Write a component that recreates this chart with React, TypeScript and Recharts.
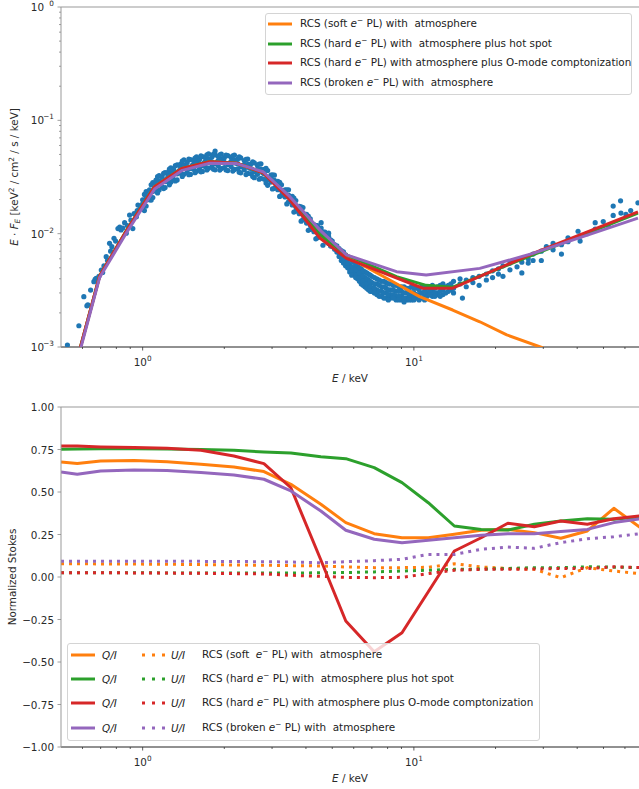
import React from 'react';
import { ComposedChart, Line, Scatter, XAxis, YAxis, ReferenceLine } from 'recharts';

const FONT = '"DejaVu Sans", sans-serif';
const FS = 10.4;
const ORANGE = '#ff7f0e';
const GREEN = '#2ca02c';
const RED = '#d62728';
const PURPLE = '#9467bd';
const BLUE = '#1f77b4';

// observed spectrum, [E keV, E*F_E]
const spectrumPts: [number, number][] = [
  [0.528, 0.00104], [0.582, 0.00154], [0.607, 0.00278], [0.623, 0.00231], [0.628, 0.00236], [0.643, 0.00318],
  [0.661, 0.00377], [0.668, 0.00395], [0.674, 0.00404], [0.69, 0.0042], [0.704, 0.00478], [0.712, 0.00455],
  [0.72, 0.0052], [0.734, 0.00626], [0.742, 0.0058], [0.755, 0.00822], [0.762, 0.007], [0.77, 0.00768],
  [0.784, 0.0091], [0.795, 0.0086], [0.811, 0.0111], [0.823, 0.0114], [0.832, 0.0108], [0.845, 0.0112],
  [0.858, 0.0125], [0.87, 0.0101], [0.878, 0.0118], [0.895, 0.0146], [0.905, 0.0132], [0.92, 0.0111],
  [0.93, 0.015], [0.948, 0.0141], [0.955, 0.016], [0.961, 0.0179], [0.975, 0.0165], [0.985, 0.0175],
  [1.0, 0.0199], [1.0, 0.0166], [1.0, 0.0183], [1.03, 0.0175], [1.03, 0.0211], [1.03, 0.0235],
  [1.06, 0.0221], [1.06, 0.0199], [1.06, 0.0243], [1.09, 0.0282], [1.09, 0.0235], [1.09, 0.0208],
  [1.12, 0.0297], [1.12, 0.0246], [1.12, 0.0273], [1.15, 0.0243], [1.15, 0.0293], [1.15, 0.0326],
  [1.18, 0.0288], [1.18, 0.0259], [1.18, 0.0317], [1.21, 0.0345], [1.21, 0.0288], [1.21, 0.0255],
  [1.24, 0.0348], [1.24, 0.0289], [1.24, 0.032], [1.27, 0.0284], [1.27, 0.0342], [1.27, 0.0381],
  [1.3, 0.0335], [1.3, 0.0302], [1.3, 0.0369], [1.34, 0.0404], [1.34, 0.0337], [1.34, 0.0298],
  [1.38, 0.0412], [1.38, 0.0342], [1.38, 0.0379], [1.42, 0.0334], [1.42, 0.0403], [1.42, 0.0448],
  [1.46, 0.0386], [1.46, 0.0347], [1.46, 0.0425], [1.5, 0.0451], [1.5, 0.0376], [1.5, 0.0333],
  [1.54, 0.0446], [1.54, 0.037], [1.54, 0.041], [1.58, 0.0356], [1.58, 0.0428], [1.58, 0.0477],
  [1.62, 0.041], [1.62, 0.0369], [1.62, 0.0451], [1.66, 0.0478], [1.66, 0.0399], [1.66, 0.0354],
  [1.7, 0.0473], [1.7, 0.0392], [1.7, 0.0435], [1.75, 0.0378], [1.75, 0.0455], [1.75, 0.0506],
  [1.8, 0.0431], [1.8, 0.0388], [1.8, 0.0474], [1.85, 0.0495], [1.85, 0.0413], [1.85, 0.0366], [1.85, 0.0535],
  [1.9, 0.0479], [1.9, 0.0398], [1.9, 0.0441], [1.95, 0.0376], [1.95, 0.0453], [1.95, 0.0504],
  [2.0, 0.0425], [2.0, 0.0383], [2.0, 0.0468], [2.06, 0.0488], [2.06, 0.0407], [2.06, 0.036],
  [2.12, 0.0472], [2.12, 0.0392], [2.12, 0.0434], [2.18, 0.0369], [2.18, 0.0444], [2.18, 0.0494],
  [2.24, 0.0415], [2.24, 0.0374], [2.24, 0.0457], [2.3, 0.0466], [2.3, 0.0389], [2.3, 0.0344],
  [2.37, 0.0442], [2.37, 0.0367], [2.37, 0.0407], [2.44, 0.034], [2.44, 0.0409], [2.44, 0.0455],
  [2.51, 0.0376], [2.51, 0.0338], [2.51, 0.0414], [2.58, 0.0422], [2.58, 0.0352], [2.58, 0.0312],
  [2.65, 0.0402], [2.65, 0.0334], [2.65, 0.037], [2.73, 0.0308], [2.73, 0.0371], [2.73, 0.0413],
  [2.81, 0.0336], [2.81, 0.0302], [2.81, 0.037], [2.89, 0.0361], [2.89, 0.0301], [2.89, 0.0267],
  [2.97, 0.0329], [2.97, 0.0285], [2.97, 0.0312], [3.06, 0.0251], [3.06, 0.0295], [3.06, 0.0328],
  [3.15, 0.0267], [3.15, 0.0244], [3.15, 0.029], [3.25, 0.027], [3.25, 0.024], [3.25, 0.0218],
  [3.35, 0.0244], [3.35, 0.0211], [3.35, 0.0231], [3.45, 0.0191], [3.45, 0.0219], [3.45, 0.0244],
  [3.56, 0.0196], [3.56, 0.0179], [3.56, 0.0213], [3.67, 0.0196], [3.67, 0.0173], [3.67, 0.0158],
  [3.78, 0.0174], [3.78, 0.015], [3.78, 0.0164], [3.9, 0.0133], [3.9, 0.0153], [3.9, 0.017],
  [4.02, 0.0136], [4.02, 0.0124], [4.02, 0.0148], [4.15, 0.0135], [4.15, 0.0119], [4.15, 0.0109],
  [4.28, 0.012], [4.28, 0.0104], [4.28, 0.0113], [4.41, 0.0092], [4.41, 0.0106], [4.41, 0.0118],
  // outer edge of the band around the peak
  [1.015, 0.0222], [1.015, 0.016], [1.075, 0.027], [1.075, 0.0198], [1.135, 0.0318], [1.135, 0.0229],
  [1.195, 0.0341], [1.195, 0.025], [1.255, 0.0371], [1.255, 0.027], [1.32, 0.0398], [1.32, 0.0292],
  [1.4, 0.0437], [1.4, 0.032], [1.48, 0.0455], [1.48, 0.0331], [1.56, 0.0465], [1.56, 0.0345],
  [1.64, 0.0487], [1.64, 0.0351], [1.725, 0.0497], [1.725, 0.0365], [1.825, 0.0503], [1.825, 0.037],
  [1.925, 0.0496], [1.925, 0.0364], [2.03, 0.0493], [2.03, 0.0365], [2.15, 0.0487], [2.15, 0.0357],
  [2.27, 0.0476], [2.27, 0.0349], [2.405, 0.0452], [2.405, 0.0332], [2.545, 0.043], [2.545, 0.0319],
  [2.69, 0.0412], [2.69, 0.0302], [2.85, 0.0377], [2.85, 0.028], [3.01, 0.033], [3.01, 0.0248],
  [3.2, 0.0284], [3.2, 0.0213], [3.4, 0.0244], [3.4, 0.0183], [3.61, 0.0206], [3.61, 0.0155],
  [3.84, 0.0172], [3.84, 0.0129], [4.08, 0.0143], [4.08, 0.0107], [4.35, 0.0118], [4.35, 0.009],
  [4.62, 0.0104], [4.62, 0.0079],
  // middle of the band
  [1.045, 0.0205], [1.105, 0.0252], [1.165, 0.0283], [1.225, 0.0303], [1.285, 0.033], [1.36, 0.0358],
  [1.44, 0.0385], [1.52, 0.0398], [1.6, 0.0404], [1.68, 0.042], [1.775, 0.0435], [1.875, 0.0428],
  [1.975, 0.043], [2.09, 0.042], [2.21, 0.0418], [2.335, 0.0398], [2.475, 0.038], [2.615, 0.0362],
  [2.77, 0.0344], [2.93, 0.0306], [3.105, 0.0262], [3.3, 0.0226], [3.505, 0.0196], [3.72, 0.0162],
  [3.96, 0.0135], [4.215, 0.0113], [4.48, 0.01],
  // dip region
  [4.55, 0.0112], [4.55, 0.0098], [4.55, 0.0125], [4.7, 0.0103], [4.7, 0.009], [4.7, 0.0096],
  [4.85, 0.0094], [4.85, 0.0082], [4.85, 0.0101], [5.0, 0.0086], [5.0, 0.0077], [5.0, 0.008],
  [5.2, 0.0078], [5.2, 0.0069], [5.2, 0.0072], [5.4, 0.0071], [5.4, 0.0062], [5.4, 0.0066], [5.4, 0.0058],
  [5.6, 0.0065], [5.6, 0.0057], [5.6, 0.0052], [5.8, 0.006], [5.8, 0.0053], [5.8, 0.0049], [5.8, 0.0046],
  [6.0, 0.0056], [6.0, 0.005], [6.0, 0.0045], [6.2, 0.0052], [6.2, 0.0047], [6.2, 0.0042], [6.2, 0.004],
  [6.4, 0.0049], [6.4, 0.0044], [6.4, 0.0039], [6.4, 0.0036], [6.6, 0.0046], [6.6, 0.0041], [6.6, 0.0037], [6.6, 0.0034],
  [6.8, 0.0044], [6.8, 0.0039], [6.8, 0.0035], [6.8, 0.0032], [7.0, 0.0042], [7.0, 0.0037], [7.0, 0.0033], [7.0, 0.0031],
  [7.3, 0.004], [7.3, 0.0036], [7.3, 0.0032], [7.3, 0.0029], [7.6, 0.0038], [7.6, 0.0034], [7.6, 0.0031], [7.6, 0.0028],
  [7.9, 0.0037], [7.9, 0.0033], [7.9, 0.003], [7.9, 0.0027], [8.2, 0.0036], [8.2, 0.0032], [8.2, 0.0029], [8.2, 0.0027],
  [8.6, 0.0035], [8.6, 0.0031], [8.6, 0.0028], [8.6, 0.0026], [9.0, 0.0034], [9.0, 0.0031], [9.0, 0.0028], [9.0, 0.0026],
  [9.4, 0.0033], [9.4, 0.003], [9.4, 0.0027], [9.4, 0.0026], [9.8, 0.0034], [9.8, 0.003], [9.8, 0.0028], [9.8, 0.0026],
  [10.2, 0.0033], [10.2, 0.0029], [10.2, 0.0027], [10.7, 0.0034], [10.7, 0.003], [10.7, 0.0027],
  [11.2, 0.0033], [11.2, 0.003], [11.2, 0.0028], [11.7, 0.0035], [11.7, 0.0031], [11.7, 0.0028],
  [12.2, 0.0034], [12.2, 0.003], [12.2, 0.0029], [12.8, 0.0036], [12.8, 0.0032], [12.8, 0.0029],
  [13.4, 0.0035], [13.4, 0.0031], [14.0, 0.0038], [14.0, 0.0033], [14.0, 0.003],
  [4.78, 0.0092], [4.78, 0.0084], [4.93, 0.0088], [4.93, 0.0078], [5.1, 0.008], [5.1, 0.0073],
  [5.3, 0.0074], [5.3, 0.0067], [5.3, 0.0063], [5.5, 0.0069], [5.5, 0.0061], [5.5, 0.0055],
  [5.7, 0.0062], [5.7, 0.0055], [5.7, 0.005], [5.9, 0.0058], [5.9, 0.0051], [5.9, 0.0047], [5.9, 0.0043],
  [6.1, 0.0054], [6.1, 0.0048], [6.1, 0.0043], [6.1, 0.0041], [6.3, 0.005], [6.3, 0.0045], [6.3, 0.0041], [6.3, 0.0038],
  [6.5, 0.0047], [6.5, 0.0042], [6.5, 0.0038], [6.5, 0.0035], [6.7, 0.0045], [6.7, 0.004], [6.7, 0.0036], [6.7, 0.0033],
  [6.9, 0.0043], [6.9, 0.0038], [6.9, 0.0034], [6.9, 0.0031], [7.15, 0.0041], [7.15, 0.0036], [7.15, 0.0033], [7.15, 0.003],
  [7.45, 0.0039], [7.45, 0.0035], [7.45, 0.0031], [7.45, 0.0028], [7.75, 0.0038], [7.75, 0.0034], [7.75, 0.003], [7.75, 0.0027],
  [8.05, 0.0036], [8.05, 0.0032], [8.05, 0.0029], [8.05, 0.0026], [8.4, 0.0035], [8.4, 0.0032], [8.4, 0.0029], [8.4, 0.0027],
  [8.8, 0.0034], [8.8, 0.0031], [8.8, 0.0028], [8.8, 0.0026], [9.2, 0.0034], [9.2, 0.003], [9.2, 0.0027], [9.2, 0.0025],
  [9.6, 0.0033], [9.6, 0.0029], [9.6, 0.0027], [9.6, 0.0026], [10.0, 0.0033], [10.0, 0.003], [10.0, 0.0028], [10.0, 0.0026],
  [10.45, 0.0032], [10.45, 0.0029], [10.45, 0.0026], [10.95, 0.0034], [10.95, 0.0031], [10.95, 0.0028], [10.95, 0.0026],
  [11.45, 0.0034], [11.45, 0.0031], [11.45, 0.0029], [11.95, 0.0033], [11.95, 0.003], [11.95, 0.0028],
  [12.5, 0.0035], [12.5, 0.0031], [12.5, 0.0028], [13.1, 0.0034], [13.1, 0.003], [13.7, 0.0036], [13.7, 0.0032],
  // hard tail
  [14.8, 0.0036], [14.8, 0.004], [15.1, 0.0027], [15.6, 0.0034], [15.6, 0.0039], [16.5, 0.0037], [16.5, 0.0041],
  [17.4, 0.0035], [17.4, 0.0042], [18.5, 0.0044], [18.5, 0.0039], [19.5, 0.0041], [19.5, 0.0047],
  [20.5, 0.0049], [20.5, 0.0044], [21.3, 0.0042], [21.3, 0.0052], [22.6, 0.0048], [22.6, 0.0055],
  [23.3, 0.0058], [24.0, 0.0051], [25.0, 0.0045], [25.0, 0.0056], [26.4, 0.0055], [26.4, 0.006],
  [27.5, 0.0058], [27.5, 0.0066], [29.5, 0.0058], [29.5, 0.007], [30.8, 0.0077], [32.6, 0.0082], [32.6, 0.0072],
  [35.0, 0.0066], [35.0, 0.008], [37.0, 0.0092], [37.0, 0.0085], [40.3, 0.0105], [41.0, 0.0086], [41.0, 0.0095],
  [43.5, 0.01], [46.6, 0.0125], [46.6, 0.011], [49.9, 0.0128], [52.0, 0.0118], [54.3, 0.0175], [54.3, 0.0145],
  [57.8, 0.0195], [58.0, 0.0152], [60.5, 0.0148], [63.0, 0.016], [67.0, 0.0187],
];

// model spectra
const softE = [0.562, 0.694, 0.883, 1.107, 1.4, 1.767, 2.22, 2.78, 3.49, 4.5, 5.97, 7.93, 10.5, 13.9, 17.5, 22.0, 29.6, 40];
const softF = [0.00065, 0.00423, 0.0112, 0.026, 0.0377, 0.0432, 0.0418, 0.0345, 0.0205, 0.0098, 0.00586, 0.00404, 0.00278, 0.00212, 0.00167, 0.00128, 0.00099, 0.0007];
const hotE = [0.562, 0.694, 0.883, 1.107, 1.4, 1.767, 2.22, 2.78, 3.49, 4.5, 5.64, 8.63, 11.1, 13.9, 27.5, 67];
const hotF = [0.00065, 0.00423, 0.0112, 0.026, 0.0377, 0.0432, 0.0418, 0.0345, 0.0205, 0.0098, 0.0065, 0.00417, 0.0035, 0.00337, 0.0065, 0.0152];
const omodeE = [0.562, 0.694, 0.883, 1.107, 1.4, 1.767, 2.22, 2.78, 3.49, 4.5, 5.64, 10.8, 13.9, 27.5, 67];
const omodeF = [0.00065, 0.00423, 0.01115, 0.026, 0.0377, 0.0432, 0.0418, 0.0345, 0.0198, 0.00916, 0.00606, 0.0033, 0.0033, 0.0067, 0.0156];
const brokenE = [0.562, 0.694, 0.883, 1.107, 1.4, 1.767, 2.22, 2.78, 3.49, 4.5, 5.64, 8.63, 11.1, 17.5, 27.5, 67];
const brokenF = [0.00062, 0.0041, 0.0107, 0.0248, 0.0362, 0.0418, 0.0415, 0.0352, 0.0212, 0.0108, 0.0065, 0.00462, 0.00432, 0.00494, 0.0067, 0.0137];

// polarisation, common energy grid
const polE = [0.5, 0.574, 0.7, 0.93, 1.23, 1.64, 2.17, 2.8, 3.52, 4.54, 5.61, 7.14, 9.04, 11.3, 14.1, 17.7, 22.2, 27.8, 34.8, 43.6, 54.6, 68.4];
const softQ = [0.676, 0.667, 0.682, 0.686, 0.678, 0.663, 0.647, 0.62, 0.545, 0.428, 0.32, 0.255, 0.231, 0.231, 0.251, 0.275, 0.28, 0.261, 0.228, 0.271, 0.404, 0.29];
const hotQ = [0.751, 0.753, 0.755, 0.755, 0.753, 0.75, 0.745, 0.735, 0.729, 0.708, 0.696, 0.643, 0.555, 0.437, 0.3, 0.28, 0.276, 0.31, 0.329, 0.343, 0.339, 0.353];
const omodeQ = [0.771, 0.77, 0.765, 0.762, 0.757, 0.745, 0.712, 0.667, 0.525, 0.1, -0.259, -0.44, -0.328, -0.087, 0.153, 0.231, 0.316, 0.296, 0.329, 0.31, 0.343, 0.359];
const brokenQ = [0.618, 0.604, 0.624, 0.629, 0.627, 0.614, 0.6, 0.575, 0.506, 0.388, 0.275, 0.222, 0.202, 0.216, 0.231, 0.245, 0.255, 0.255, 0.267, 0.28, 0.32, 0.343];
const softU = [0.078, 0.078, 0.077, 0.076, 0.075, 0.073, 0.071, 0.069, 0.067, 0.065, 0.059, 0.055, 0.055, 0.057, 0.078, 0.059, 0.05, 0.045, -0.004, 0.055, 0.035, 0.02];
const hotU = [0.025, 0.025, 0.025, 0.025, 0.024, 0.024, 0.023, 0.023, 0.023, 0.025, 0.026, 0.03, 0.035, 0.04, 0.045, 0.047, 0.05, 0.055, 0.055, 0.06, 0.058, 0.055];
const omodeU = [0.025, 0.025, 0.025, 0.024, 0.023, 0.022, 0.02, 0.018, 0.01, 0.004, -0.002, -0.004, -0.002, 0.02, 0.04, 0.045, 0.045, 0.047, 0.05, 0.05, 0.06, 0.055];
const brokenU = [0.092, 0.092, 0.093, 0.093, 0.093, 0.092, 0.091, 0.09, 0.088, 0.084, 0.09, 0.096, 0.104, 0.133, 0.133, 0.163, 0.176, 0.169, 0.202, 0.225, 0.237, 0.255];

const xTicks = [0.6, 0.7, 0.8, 0.9, 1, 2, 3, 4, 5, 6, 7, 8, 9, 10, 20, 30, 40, 50, 60];
const fluxTicks = [0.001, 0.002, 0.003, 0.004, 0.005, 0.006, 0.007, 0.008, 0.009, 0.01, 0.02, 0.03, 0.04, 0.05, 0.06, 0.07, 0.08, 0.09, 0.1, 0.2, 0.3, 0.4, 0.5, 0.6, 0.7, 0.8, 0.9, 1];
const stokesTicks = [-1, -0.75, -0.5, -0.25, 0, 0.25, 0.5, 0.75, 1];

const modelLabelsTop = [
  ['RCS (soft ', ' PL) with  atmosphere'],
  ['RCS (hard ', ' PL) with  atmosphere plus hot spot'],
  ['RCS (hard ', ' PL) with atmosphere plus O-mode comptonization'],
  ['RCS (broken ', ' PL) with  atmosphere'],
];
const modelLabelsBottom = [
  ['RCS (soft  ', ' PL) with  atmosphere'],
  ['RCS (hard ', ' PL) with  atmosphere plus hot spot'],
  ['RCS (hard ', ' PL) with atmosphere plus O-mode comptonization'],
  ['RCS (broken ', ' PL) with  atmosphere'],
];
const modelColors = [ORANGE, GREEN, RED, PURPLE];

const zip = (xs: number[], ys: number[]) => xs.map((x, i) => ({ x, y: ys[i] }));
const isMajor = (v: number) => Math.abs(Math.log10(v) - Math.round(Math.log10(v))) < 1e-6;
const expStr = (v: number) => {
  const e = Math.round(Math.log10(v));
  return e < 0 ? '\u2212' + Math.abs(e) : String(e);
};

const TXT = '#2a2a2a';

const LogXTick = (props: any) => {
  const { x, y, payload } = props;
  const major = isMajor(payload.value);
  return (
    <g>
      <line x1={x} x2={x} y1={y} y2={y + (major ? 3.5 : 2)} stroke="#333" strokeWidth={0.8} />
      {major && (
        <text x={x} y={y + 19} textAnchor="middle" fontSize={FS} fontFamily={FONT} fill={TXT}>
          10<tspan dy={-5} fontSize={7.3}>{expStr(payload.value)}</tspan>
        </text>
      )}
    </g>
  );
};

const LogYTick = (props: any) => {
  const { x, y, payload } = props;
  const major = isMajor(payload.value);
  return (
    <g>
      <line x1={x} x2={x - (major ? 3.5 : 2)} y1={y} y2={y} stroke="#888" strokeWidth={0.8} />
      {major && (
        <text x={x - 17} y={y + 4} textAnchor="end" fontSize={FS} fontFamily={FONT} fill={TXT}>
          10
          <tspan x={x - 7} dy={-5} fontSize={7.3} textAnchor="end">{expStr(payload.value)}</tspan>
        </text>
      )}
    </g>
  );
};

const LinYTick = (props: any) => {
  const { x, y, payload } = props;
  const v = payload.value as number;
  const s = (v < 0 ? '\u2212' : '') + Math.abs(v).toFixed(2);
  return (
    <g>
      <line x1={x} x2={x - 3.5} y1={y} y2={y} stroke="#888" strokeWidth={0.8} />
      <text x={x - 7} y={y + 4} textAnchor="end" fontSize={FS} fontFamily={FONT} fill={TXT}>{s}</text>
    </g>
  );
};

const dot = (p: any) => <circle cx={p.cx} cy={p.cy} r={2.6} fill={BLUE} />;

const Sup = ({ children }: { children: React.ReactNode }) => (
  <span style={{ fontSize: 7.3, position: 'relative', top: -4 }}>{children}</span>
);

const ModelText = ({ parts }: { parts: string[] }) => (
  <span style={{ whiteSpace: 'pre' }}>
    {parts[0]}<i>e</i><Sup>{'\u2212'}</Sup>{parts[1]}
  </span>
);

const Handle = ({ color, dotted }: { color: string; dotted?: boolean }) => (
  <svg width={24} height={12} style={{ display: 'block' }}>
    <line x1={0} x2={24} y1={6} y2={6} stroke={color} strokeWidth={3} strokeDasharray={dotted ? '3 7' : undefined} />
  </svg>
);

const legendBox: React.CSSProperties = {
  position: 'absolute',
  background: 'rgba(255,255,255,0.8)',
  border: '1px solid #d4d4d4',
  borderRadius: 3,
  boxSizing: 'border-box',
  fontFamily: FONT,
  fontSize: FS,
  color: '#222',
};

const lineProps = { dataKey: 'y', strokeWidth: 3, dot: false, activeDot: false, isAnimationActive: false };

const logX = {
  dataKey: 'x',
  type: 'number' as const,
  scale: 'log' as const,
  domain: [0.5, 67.6],
  allowDataOverflow: true,
  ticks: xTicks,
  interval: 0 as const,
  tickSize: 0,
  tickMargin: 0,
  tickLine: false,
};

export default function App() {
  const visibleX = { ...logX, tick: (p: any) => <LogXTick {...p} />, axisLine: { stroke: '#222', strokeWidth: 1 } };
  const hiddenX = { ...logX, tick: false, axisLine: false };
  const topY = {
    type: 'number' as const,
    scale: 'log' as const,
    domain: [0.001, 1],
    allowDataOverflow: true,
    ticks: fluxTicks,
    interval: 0 as const,
    width: 61,
    tickSize: 0,
    tickMargin: 0,
    tickLine: false,
  };
  const botY = {
    type: 'number' as const,
    domain: [-1, 1],
    allowDataOverflow: true,
    ticks: stokesTicks,
    interval: 0 as const,
    width: 61,
    tickSize: 0,
    tickMargin: 0,
    tickLine: false,
  };
  const topMargin = { top: 7, right: 0, bottom: 0, left: 0 };
  const botMargin = { top: 17, right: 0, bottom: 0, left: 0 };

  return (
    <div style={{ position: 'absolute', left: 0, top: 0, width: 639, height: 789, background: '#fff', fontFamily: FONT }}>
      {/* spectrum: axes + data points underneath */}
      <div style={{ position: 'absolute', left: 0, top: 0 }}>
        <ComposedChart width={639} height={390} margin={topMargin}>
          <XAxis {...visibleX} height={43} />
          <YAxis {...topY} tick={(p: any) => <LogYTick {...p} />} axisLine={{ stroke: '#999', strokeWidth: 1 }} />
          <ReferenceLine y={1} stroke="#999" strokeWidth={1} />
          <Scatter data={spectrumPts.map(([x, y]) => ({ x, y }))} dataKey="y" fill={BLUE} shape={dot} isAnimationActive={false} />
        </ComposedChart>
      </div>
      {/* spectrum: model curves on top */}
      <div style={{ position: 'absolute', left: 0, top: 0 }}>
        <ComposedChart width={639} height={390} margin={topMargin}>
          <XAxis {...hiddenX} height={43} />
          <YAxis {...topY} tick={false} axisLine={false} />
          <Line {...lineProps} data={zip(softE, softF)} stroke={ORANGE} strokeLinejoin="round" />
          <Line {...lineProps} data={zip(hotE, hotF)} stroke={GREEN} strokeLinejoin="round" />
          <Line {...lineProps} data={zip(omodeE, omodeF)} stroke={RED} strokeLinejoin="round" />
          <Line {...lineProps} data={zip(brokenE, brokenF)} stroke={PURPLE} strokeLinejoin="round" />
        </ComposedChart>
      </div>

      {/* top legend */}
      <div style={{ ...legendBox, left: 265, top: 13, width: 367, height: 82 }}>
        {modelLabelsTop.map((parts, i) => (
          <div key={i} style={{ position: 'absolute', left: 2, top: 4.3 + i * 19.5, height: 12, display: 'flex', alignItems: 'center', lineHeight: '12px' }}>
            <Handle color={modelColors[i]} />
            <span style={{ marginLeft: 8 }}><ModelText parts={parts} /></span>
          </div>
        ))}
      </div>

      {/* top axis titles */}
      <div style={{ position: 'absolute', left: 350, top: 378, transform: 'translate(-50%,-50%)', fontSize: FS, color: TXT, whiteSpace: 'pre' }}>
        <i>E</i> / keV
      </div>
      <div style={{ position: 'absolute', left: 14, top: 177, transform: 'translate(-50%,-50%) rotate(-90deg)', fontSize: FS, color: TXT, whiteSpace: 'pre' }}>
        <i>E</i> · <i>F</i><span style={{ fontSize: 7.3, position: 'relative', top: 2 }}><i>E</i></span> [keV<Sup>2</Sup> / cm<Sup>2</Sup> / s / keV]
      </div>

      {/* polarisation */}
      <div style={{ position: 'absolute', left: 0, top: 390 }}>
        <ComposedChart width={639} height={399} margin={botMargin}>
          <XAxis {...visibleX} height={42} />
          <YAxis {...botY} tick={(p: any) => <LinYTick {...p} />} axisLine={{ stroke: '#999', strokeWidth: 1 }} />
          <ReferenceLine y={1} stroke="#999" strokeWidth={1} />
          <Line {...lineProps} data={zip(polE, softQ)} stroke={ORANGE} strokeLinejoin="round" />
          <Line {...lineProps} data={zip(polE, softU)} stroke={ORANGE} strokeDasharray="3 5" />
          <Line {...lineProps} data={zip(polE, hotQ)} stroke={GREEN} strokeLinejoin="round" />
          <Line {...lineProps} data={zip(polE, hotU)} stroke={GREEN} strokeDasharray="3 5" />
          <Line {...lineProps} data={zip(polE, omodeQ)} stroke={RED} strokeLinejoin="round" />
          <Line {...lineProps} data={zip(polE, omodeU)} stroke={RED} strokeDasharray="3 5" />
          <Line {...lineProps} data={zip(polE, brokenQ)} stroke={PURPLE} strokeLinejoin="round" />
          <Line {...lineProps} data={zip(polE, brokenU)} stroke={PURPLE} strokeDasharray="3 5" />
        </ComposedChart>
      </div>

      {/* bottom legend */}
      <div style={{ ...legendBox, left: 67, top: 643, width: 473, height: 98 }}>
        {modelLabelsBottom.map((parts, i) => (
          <div key={i} style={{ position: 'absolute', left: 3, top: 5 + i * 24.2, height: 12, display: 'flex', alignItems: 'center', lineHeight: '12px' }}>
            <Handle color={modelColors[i]} />
            <span style={{ position: 'absolute', left: 31, fontStyle: 'italic' }}>Q/I</span>
            <span style={{ position: 'absolute', left: 71 }}><Handle color={modelColors[i]} dotted /></span>
            <span style={{ position: 'absolute', left: 100, fontStyle: 'italic' }}>U/I</span>
            <span style={{ position: 'absolute', left: 131 }}><ModelText parts={parts} /></span>
          </div>
        ))}
      </div>

      {/* bottom axis titles */}
      <div style={{ position: 'absolute', left: 350, top: 778, transform: 'translate(-50%,-50%)', fontSize: FS, color: TXT, whiteSpace: 'pre' }}>
        <i>E</i> / keV
      </div>
      <div style={{ position: 'absolute', left: 12, top: 577, transform: 'translate(-50%,-50%) rotate(-90deg)', fontSize: FS, color: TXT, whiteSpace: 'pre' }}>
        Normalized Stokes
      </div>
    </div>
  );
}
